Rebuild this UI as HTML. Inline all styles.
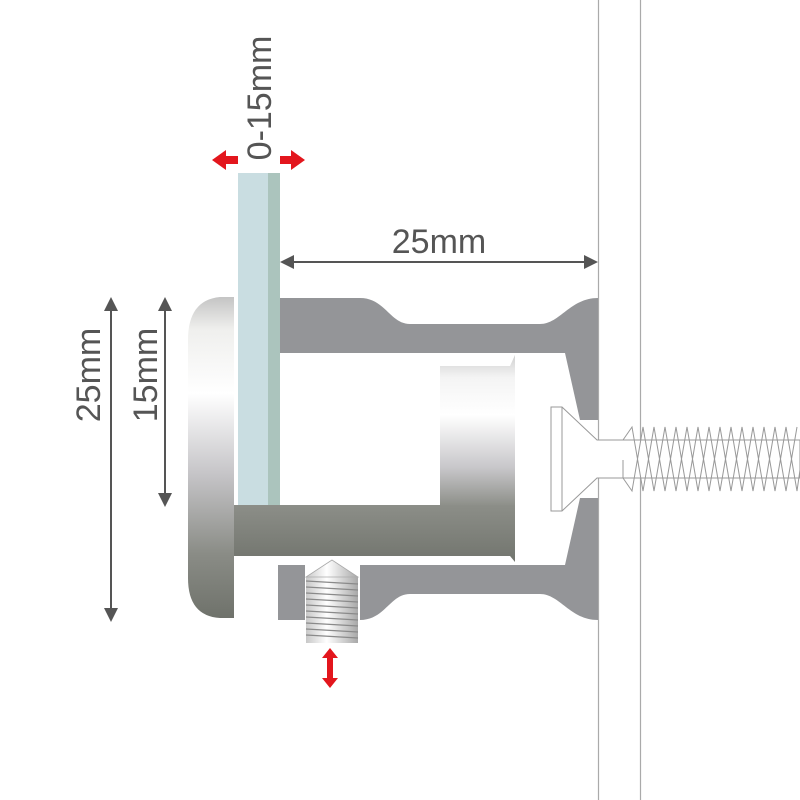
<!DOCTYPE html>
<html><head><meta charset="utf-8"><style>html,body{margin:0;padding:0;background:#fff}svg{display:block}</style></head><body>
<svg width="800" height="800" viewBox="0 0 800 800" xmlns="http://www.w3.org/2000/svg" font-family="Liberation Sans, sans-serif">
<defs>
<linearGradient id="cap" x1="0" y1="0" x2="0" y2="1">
<stop offset="0" stop-color="#c4c4c4"/><stop offset="0.1" stop-color="#efefed"/><stop offset="0.3" stop-color="#ffffff"/><stop offset="0.55" stop-color="#c6c5c8"/><stop offset="0.8" stop-color="#8a8c86"/><stop offset="1" stop-color="#6f726b"/>
</linearGradient>
<linearGradient id="sleeve" x1="0" y1="0" x2="0" y2="1">
<stop offset="0" stop-color="#8c8e88"/><stop offset="1" stop-color="#72756e"/>
</linearGradient>
<linearGradient id="inner" x1="0" y1="0" x2="0" y2="1">
<stop offset="0" stop-color="#d0d0d0"/><stop offset="0.15" stop-color="#f4f4f4"/><stop offset="0.4" stop-color="#ffffff"/><stop offset="0.75" stop-color="#c8c7ca"/><stop offset="1" stop-color="#8e908a"/>
</linearGradient>
<linearGradient id="ss" x1="0" y1="0" x2="1" y2="0">
<stop offset="0" stop-color="#c8c8c8"/><stop offset="0.4" stop-color="#ffffff"/><stop offset="1" stop-color="#a8a8a8"/>
</linearGradient>
</defs>
<!-- wall -->
<line x1="598.5" y1="0" x2="598.5" y2="800" stroke="#aaa" stroke-width="1.2"/>
<line x1="640.5" y1="0" x2="640.5" y2="800" stroke="#aaa" stroke-width="1.2"/>
<!-- top body -->
<path d="M280,298 L360,298 C385,298 390,324 410,324 L540,324 C560,324 570,298 598,298 L598,420 L580,420 L565,353 L280,353 Z" fill="#949598"/>
<!-- bottom body -->
<path d="M360,565 L565,565 L580,498 L598,498 L598,620 C570,620 560,594 540,594 L410,594 C390,594 385,620 360,620 Z" fill="#949598"/>
<rect x="278" y="565" width="27" height="55" fill="#949598"/>
<!-- inner cylinder -->
<path d="M440,366 L510,366 L515,355 L515,505 L440,505 Z" fill="url(#inner)"/>
<!-- sleeve -->
<path d="M234,505 L515,505 L515,562 L510,556 L234,556 Z" fill="url(#sleeve)"/>
<!-- cap -->
<path d="M234,297 L220,297 Q188,300 188,340 L188,578 Q188,616 220,618 L234,618 Z" fill="url(#cap)"/>
<!-- glass -->
<rect x="238" y="173" width="30" height="332" fill="#c9dde1"/>
<rect x="268" y="173" width="12" height="332" fill="#abc4bd"/>
<!-- wall screw -->
<g fill="#fff" stroke="#999" stroke-width="1">
<path d="M551,407 L562,407 L597,440 L800,440 L800,478 L597,478 L562,511 L551,511 Z"/>
<line x1="562" y1="407" x2="562" y2="511"/>
<polyline fill="none" points="623,440 632,427 643,491 654,427 665,491 676,427 687,491 698,427 709,491 720,427 731,491 742,427 753,491 764,427 775,491 786,427 797,491 800,470"/>
<polyline fill="none" points="623,460 623,478 632,491 643,427 654,491 665,427 676,491 687,427 698,491 709,427 720,491 731,427 742,491 753,427 764,491 775,427 786,491 797,427"/>
</g>
<!-- set screw -->
<rect x="306" y="577" width="52" height="66" fill="url(#ss)"/>
<g stroke="#8a8a8a" stroke-width="1.3">
<line x1="306" y1="581" x2="358" y2="584"/><line x1="306" y1="587" x2="358" y2="590"/><line x1="306" y1="593" x2="358" y2="596"/><line x1="306" y1="599" x2="358" y2="602"/><line x1="306" y1="605" x2="358" y2="608"/><line x1="306" y1="611" x2="358" y2="614"/><line x1="306" y1="617" x2="358" y2="620"/><line x1="306" y1="623" x2="358" y2="626"/><line x1="306" y1="629" x2="358" y2="632"/><line x1="306" y1="635" x2="358" y2="638"/>
</g>
<path d="M332,560 L306,577 L358,577 Z" fill="url(#ss)" stroke="#aaa" stroke-width="0.8"/>
<!-- dimension lines -->
<g stroke="#555" stroke-width="2" fill="#555">
<line x1="292" y1="262" x2="586" y2="262"/>
<path d="M280,262 L294,255 L294,269 Z" stroke="none"/>
<path d="M598,262 L584,255 L584,269 Z" stroke="none"/>
<line x1="111" y1="308" x2="111" y2="610"/>
<path d="M111,297 L104,311 L118,311 Z" stroke="none"/>
<path d="M111,622 L104,608 L118,608 Z" stroke="none"/>
<line x1="165" y1="308" x2="165" y2="495"/>
<path d="M165,297 L158,311 L172,311 Z" stroke="none"/>
<path d="M165,507 L158,493 L172,493 Z" stroke="none"/>
</g>
<g fill="#555" font-size="34">
<text x="439" y="253" text-anchor="middle">25mm</text>
<text transform="translate(100,375) rotate(-90)" text-anchor="middle">25mm</text>
<text transform="translate(157,375) rotate(-90)" text-anchor="middle">15mm</text>
<text transform="translate(271,98) rotate(-90)" text-anchor="middle">0-15mm</text>
</g>
<!-- red arrows -->
<g fill="#e3161d">
<path d="M212,160 L226,150 L226,156 L238,156 L238,164 L226,164 L226,170 Z"/>
<path d="M305,160 L291,150 L291,156 L280,156 L280,164 L291,164 L291,170 Z"/>
<path d="M330,648 L322,658 L327,658 L327,678 L322,678 L330,688 L338,678 L333,678 L333,658 L338,658 Z"/>
</g>
</svg>
</body></html>
